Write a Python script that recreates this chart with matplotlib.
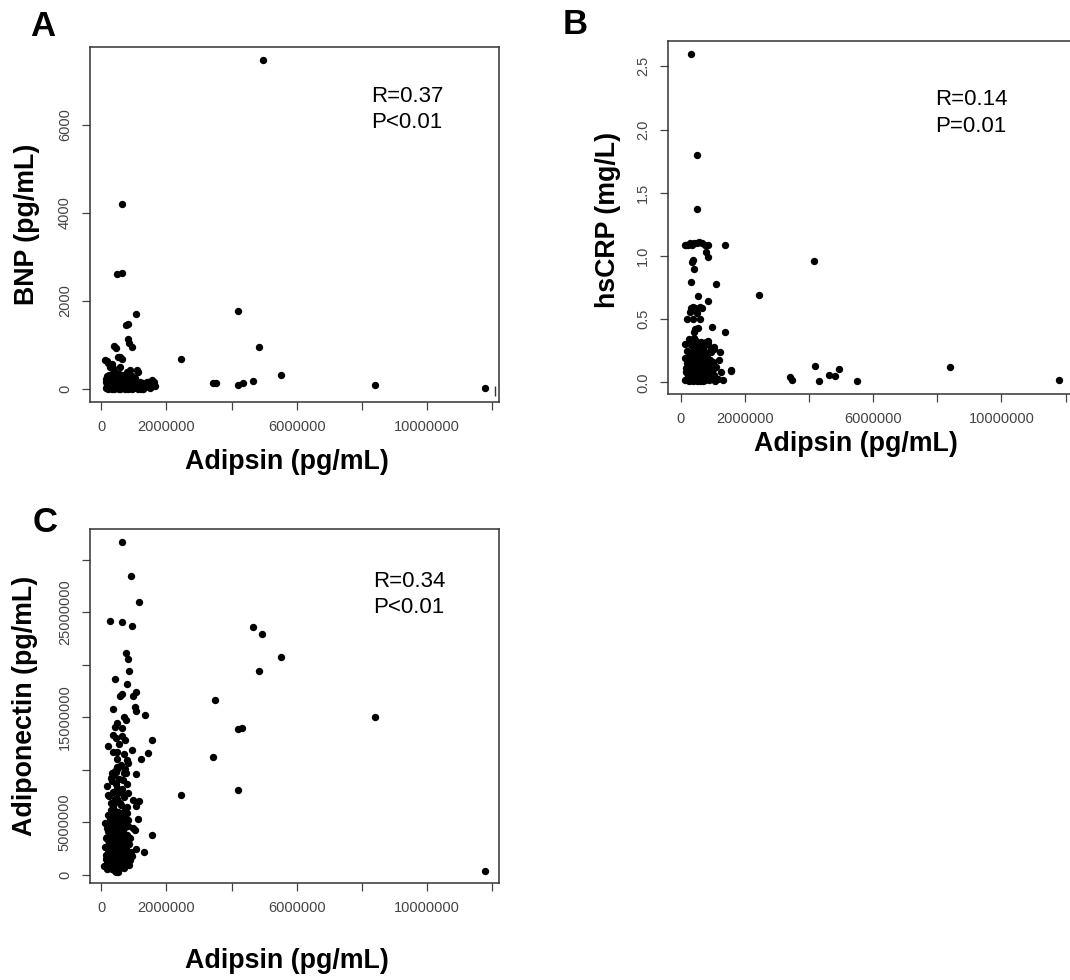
import numpy as np
import matplotlib.pyplot as plt

plt.rcParams['font.family'] = ['Liberation Sans', 'DejaVu Sans']

# Adipsin values are in millions of pg/mL

# A: Adipsin vs BNP
adipsin_a = [4.95, 0.65, 0.50, 0.63, 1.07, 4.19, 0.77, 0.84, 0.81, 0.85,
             0.95, 0.41, 0.45, 4.84, 2.45, 0.13, 0.53, 0.63, 0.58, 0.17,
             0.22, 0.28, 0.34, 0.38, 0.43, 0.58, 0.79, 0.89, 1.09, 1.14,
             5.51, 3.44, 3.52, 4.21, 4.34, 4.65, 8.39, 11.76, 1.40, 1.55,
             1.60, 1.50,
             0.15, 0.18, 0.20, 0.22, 0.25, 0.18, 0.28, 0.30, 0.32, 0.35,
             0.38, 0.40, 0.42, 0.45, 0.48, 0.50, 0.52, 0.55, 0.57, 0.60,
             0.62, 0.65, 0.67, 0.70, 0.72, 0.75, 0.78, 0.80, 0.83, 0.86,
             0.88, 0.90, 0.93, 0.96, 1.00, 1.03, 1.06, 1.10, 1.15, 1.20,
             1.25, 1.30, 1.35, 0.25, 0.35, 0.45, 0.55, 0.70, 0.95, 1.05,
             0.14, 0.16, 0.24, 0.34, 0.44, 0.54, 0.64, 0.74, 0.84, 0.94,
             1.12, 1.22, 1.40, 1.28, 0.60, 0.68, 0.82, 1.00, 0.27, 0.47,
             0.37, 0.57, 1.45, 1.50, 1.58, 1.62, 1.65,
             0.19, 0.21, 0.23, 0.26, 0.29, 0.31, 0.33, 0.36, 0.39, 0.41,
             0.43, 0.46, 0.49, 0.51, 0.53, 0.56, 0.59, 0.61, 0.63, 0.66,
             0.69, 0.71, 0.73, 0.76, 0.79, 0.81, 0.85, 0.87, 0.91, 0.97,
             1.02, 1.08, 1.13, 1.18, 0.35, 0.50, 0.65, 0.80, 0.30, 0.60]
bnp = [7478, 4205, 2607, 2643, 1705, 1780, 1455, 1477, 1130, 1050,
       962, 985, 925, 948, 675, 659, 720, 675, 734, 640,
       584, 507, 560, 470, 393, 507, 393, 432, 432, 393,
       325, 136, 130, 91, 130, 189, 91, 30, 166, 205,
       120, 100,
       20, 60, 120, 180, 250, 300, 30, 90, 150, 220,
       280, 10, 70, 130, 200, 260, 40, 100, 160, 230,
       310, 15, 80, 140, 190, 250, 50, 110, 170, 230,
       20, 80, 140, 200, 30, 90, 150, 60, 110, 40,
       90, 130, 50, 330, 360, 300, 340, 320, 300, 260,
       150, 230, 40, 0, 20, 5, 45, 5, 10, 10,
       10, 5, 60, 10, 60, 200, 60, 170, 190, 250,
       110, 270, 150, 30, 80, 150, 60,
       100, 10, 200, 70, 160, 240, 60, 30, 130, 190,
       230, 60, 20, 140, 100, 210, 10, 110, 180, 50,
       20, 90, 230, 120, 160, 30, 100, 150, 40, 120,
       60, 110, 20, 150, 160, 170, 160, 200, 20, 150]
stray_a = (12.09, -53)

# B: Adipsin vs hsCRP
adipsin_b = [0.33, 0.49, 0.49,
             0.12, 0.16, 0.22, 0.28, 0.34, 0.42, 0.50, 0.58, 0.66, 0.75,
             0.85, 1.37, 0.80, 0.85, 0.38, 0.41, 0.36, 4.16, 0.33, 1.09,
             2.44, 0.54, 0.85, 0.33, 0.44, 0.65, 0.28, 0.38, 0.49, 0.59,
             0.18, 0.38, 0.59, 0.54, 0.98, 1.37, 0.40, 0.45, 0.85, 0.80,
             1.05, 0.95,
             1.58, 1.55, 3.40, 3.47, 4.19, 4.31, 4.62, 4.80, 4.93, 5.51,
             8.39, 11.79,
             0.12, 0.15, 0.18, 0.20, 0.22, 0.25, 0.28, 0.30, 0.32, 0.35,
             0.38, 0.40, 0.42, 0.45, 0.48, 0.50, 0.52, 0.55, 0.58, 0.60,
             0.62, 0.65, 0.68, 0.70, 0.72, 0.75, 0.78, 0.80, 0.83, 0.86,
             0.88, 0.90, 0.93, 0.96, 1.00, 1.05, 1.10, 1.15, 1.20, 1.25,
             0.14, 0.24, 0.34, 0.44, 0.54, 0.64, 0.74, 0.84, 0.94, 0.16,
             0.26, 0.36, 0.46, 0.56, 0.66, 0.76, 0.13, 0.23, 0.33, 0.43,
             1.30, 1.02, 0.70, 0.57, 0.47, 1.21,
             0.19, 0.21, 0.23, 0.26, 0.29, 0.31, 0.33, 0.36, 0.39, 0.41,
             0.43, 0.46, 0.49, 0.51, 0.53, 0.56, 0.59, 0.61, 0.63, 0.66,
             0.69, 0.71, 0.73, 0.76, 0.79, 0.81, 0.85, 0.87, 0.91, 0.97,
             1.02, 1.08, 0.35, 0.50, 0.65, 0.30, 0.60, 0.45, 0.55, 0.40]
hscrp = [2.60, 1.80, 1.37,
         1.09, 1.09, 1.09, 1.10, 1.09, 1.10, 1.10, 1.11, 1.10, 1.09,
         1.09, 1.09, 1.035, 0.995, 0.97, 0.90, 0.95, 0.956, 0.79, 0.776,
         0.69, 0.68, 0.64, 0.59, 0.59, 0.59, 0.56, 0.60, 0.55, 0.60,
         0.50, 0.50, 0.50, 0.43, 0.44, 0.40, 0.40, 0.42, 0.33, 0.32,
         0.28, 0.26,
         0.10, 0.087, 0.04, 0.02, 0.13, 0.013, 0.06, 0.047, 0.108, 0.013,
         0.12, 0.02,
         0.02, 0.08, 0.15, 0.25, 0.05, 0.12, 0.20, 0.30, 0.02, 0.10,
         0.18, 0.27, 0.35, 0.05, 0.14, 0.22, 0.01, 0.09, 0.17, 0.26,
         0.32, 0.04, 0.12, 0.20, 0.29, 0.02, 0.08, 0.15, 0.22, 0.05,
         0.12, 0.18, 0.03, 0.10, 0.16, 0.06, 0.12, 0.03, 0.18, 0.08,
         0.30, 0.34, 0.24, 0.18, 0.30, 0.15, 0.10, 0.30, 0.24, 0.11,
         0.01, 0.04, 0.28, 0.12, 0.22, 0.16, 0.19, 0.09, 0.14, 0.10,
         0.02, 0.26, 0.01, 0.05, 0.33, 0.24,
         0.10, 0.17, 0.02, 0.21, 0.07, 0.13, 0.08, 0.19, 0.01, 0.12,
         0.06, 0.21, 0.03, 0.11, 0.17, 0.02, 0.07, 0.13, 0.19, 0.09,
         0.05, 0.15, 0.02, 0.24, 0.04, 0.11, 0.17, 0.02, 0.09, 0.05,
         0.11, 0.01, 0.29, 0.06, 0.27, 0.15, 0.01, 0.24, 0.20, 0.02]

# C: Adipsin vs Adiponectin (adiponectin in millions of pg/mL)
adipsin_c = [0.63, 0.92, 1.17, 0.28, 0.63, 0.94, 4.65, 4.94, 5.51, 4.85,
             0.77, 0.82, 0.86, 0.44, 0.79, 0.58, 0.64, 0.99, 1.07, 3.49,
             0.35, 1.04, 1.07, 1.35, 8.39, 0.71, 0.77, 0.48, 0.43, 4.19,
             4.33, 0.38, 0.63, 0.74, 1.57, 0.21, 0.94, 1.45, 0.36, 0.48,
             3.44, 1.23, 0.80, 0.83, 0.48, 0.43, 0.70, 0.77, 0.74, 0.33,
             0.31, 1.07, 0.78, 0.17, 4.19, 0.48, 0.53, 0.84, 0.20, 0.24,
             2.45, 0.31, 0.38, 0.99, 1.17, 0.78, 1.07, 0.31, 0.44, 1.14,
             0.63, 0.70, 0.12, 0.18, 0.99, 1.04, 1.57, 1.07, 1.32, 11.76,
             0.48,
             0.10, 0.15, 0.20, 0.25, 0.30, 0.35, 0.40, 0.45, 0.50, 0.55,
             0.60, 0.65, 0.70, 0.75, 0.80, 0.85, 0.90, 0.12, 0.18, 0.22,
             0.28, 0.33, 0.38, 0.42, 0.48, 0.52, 0.58, 0.62, 0.68, 0.72,
             0.78, 0.82, 0.88, 0.15, 0.25, 0.35, 0.45, 0.55, 0.65, 0.75,
             0.20, 0.30, 0.40, 0.50, 0.60, 0.70, 0.80, 0.35, 0.45, 0.55,
             0.65, 0.40, 0.60, 0.50, 0.70, 0.55, 0.45, 0.65, 0.30, 0.92,
             0.42, 0.52, 0.58, 0.38, 0.68, 0.28, 0.18, 0.85, 0.95, 0.47,
             0.16, 0.19, 0.21, 0.24, 0.27, 0.29, 0.32, 0.34, 0.37, 0.39,
             0.41, 0.44, 0.46, 0.49, 0.51, 0.54, 0.56, 0.59, 0.61, 0.64,
             0.66, 0.69, 0.71, 0.74, 0.76, 0.79, 0.81, 0.84, 0.36, 0.43,
             0.53, 0.57, 0.63, 0.67, 0.26, 0.31, 0.47, 0.73, 0.23, 0.77,
             0.14, 0.39, 0.49, 0.59, 0.69, 0.34, 0.44, 0.54, 0.64, 0.29,
             0.42, 0.52, 0.62, 0.72, 0.37, 0.57, 0.47, 0.67, 0.33, 0.51]
adiponectin = [31.65, 28.48, 25.97, 24.16, 24.07, 23.65, 23.55, 22.95, 20.76, 19.36,
               21.1, 20.5, 19.36, 18.67, 18.16, 17.05, 17.2, 17.05, 17.4, 16.67,
               15.8, 16.0, 15.6, 15.17, 15.0, 15.0, 14.76, 14.45, 14.07, 13.9,
               13.97, 13.33, 13.17, 12.79, 12.79, 12.29, 11.9, 11.59, 11.65, 11.65,
               11.2, 11.05, 10.95, 10.6, 10.3, 9.84, 9.68, 9.68, 10.1, 9.68,
               9.21, 9.59, 8.6, 8.48, 8.03, 8.3, 7.8, 7.8, 7.6, 7.5,
               7.55, 6.8, 6.6, 7.08, 7.05, 6.4, 6.5, 5.8, 6.1, 5.33,
               5.9, 5.4, 4.92, 4.44, 4.44, 4.29, 3.75, 2.48, 2.16, 0.38,
               0.48,
               0.8, 1.5, 2.2, 3.0, 0.6, 1.2, 1.9, 2.6, 3.4, 0.9,
               1.6, 2.4, 3.1, 1.1, 2.0, 2.9, 1.4, 2.6, 3.6, 4.2,
               4.8, 3.9, 4.5, 5.2, 4.1, 5.6, 4.7, 5.1, 4.3, 5.5,
               3.8, 4.6, 3.5, 0.9, 1.4, 2.3, 0.7, 1.8, 0.8, 2.6,
               5.7, 6.2, 6.8, 7.2, 6.6, 7.4, 5.9, 7.9, 8.6, 9.1,
               8.2, 9.5, 10.4, 11.0, 11.5, 12.4, 13.0, 14.0, 3.3, 2.2,
               0.4, 0.3, 2.9, 3.0, 1.9, 2.0, 1.1, 0.9, 1.8, 6.0,
               1.9, 0.5, 3.3, 1.0, 2.5, 4.0, 1.7, 0.5, 2.8, 4.9,
               1.5, 3.6, 0.3, 2.0, 4.4, 1.3, 3.2, 0.6, 2.2, 4.0,
               1.3, 3.8, 0.6, 1.7, 3.4, 1.4, 5.2, 2.2, 5.5, 4.3,
               6.0, 2.4, 3.7, 5.9, 5.3, 5.0, 5.0, 4.5, 0.6, 5.1,
               3.5, 1.0, 0.9, 1.0, 2.7, 3.0, 3.2, 2.5, 3.0, 1.6,
               7.2, 8.0, 7.9, 6.3, 6.5, 6.8, 9.8, 9.0, 8.9, 10.2]

x_ticks = np.arange(0, 12.1e6, 2e6)
x_labels = ['0', '2000000', '', '6000000', '', '10000000', '']

W, H = 1070, 980
fig = plt.figure(figsize=(W / 100, H / 100), dpi=100)


def panel(left, top, right, bottom):
    return fig.add_axes([left / W, 1 - bottom / H, (right - left) / W, (bottom - top) / H])


def style(ax):
    for s in ax.spines.values():
        s.set_color('#333333')
        s.set_linewidth(1.1)
    ax.tick_params(direction='out', length=6, width=0.9, color='#444444',
                   labelcolor='#444444', labelsize=10.5, pad=7)
    ax.tick_params(axis='y', labelrotation=90)
    for lab in ax.get_yticklabels():
        lab.set_va('center')


def dots(ax, x, y, yscale=1.0):
    ax.plot(np.array(x) * 1e6, np.array(y) * yscale, 'o', color='black',
            markersize=5.3, markeredgewidth=0)


lab_font = dict(fontsize=19.3, fontweight='bold')
stat_font = dict(fontsize=16)

# panel A
ax_a = panel(90, 47, 499, 402)
dots(ax_a, adipsin_a, bnp)
ax_a.plot(stray_a[0] * 1e6, stray_a[1], '|', color='#333333', markersize=7)
ax_a.set_xlim(-0.34e6, 12.2e6)
ax_a.set_ylim(-295, 7774)
ax_a.set_xticks(x_ticks, x_labels)
ax_a.set_yticks([0, 2000, 4000, 6000], ['0', '2000', '4000', '6000'])
style(ax_a)
ax_a.set_xlabel('Adipsin (pg/mL)', va='center', **lab_font)
ax_a.xaxis.set_label_coords(0.4825, -0.169)
ax_a.set_ylabel('BNP (pg/mL)', va='center', **lab_font)
ax_a.yaxis.set_label_coords(-0.155, 0.5)
ax_a.text(0.688, 0.846, 'R=0.37', transform=ax_a.transAxes, va='baseline', **stat_font)
ax_a.text(0.688, 0.771, 'P<0.01', transform=ax_a.transAxes, va='baseline', **stat_font)

# panel B (runs off the right edge like the original)
ax_b = panel(668, 41, 1072, 394)
dots(ax_b, adipsin_b, hscrp)
ax_b.set_xlim(-0.4e6, 12.2e6)
ax_b.set_ylim(-0.092, 2.70)
ax_b.set_xticks(x_ticks, x_labels)
ax_b.set_yticks([0, 0.5, 1.0, 1.5, 2.0, 2.5], ['0.0', '0.5', '1.0', '1.5', '2.0', '2.5'])
style(ax_b)
ax_b.set_xlabel('Adipsin (pg/mL)', va='center', **lab_font)
ax_b.xaxis.set_label_coords(0.464, -0.143)
ax_b.set_ylabel('hsCRP (mg/L)', va='center', **lab_font)
ax_b.yaxis.set_label_coords(-0.1485, 0.493)
ax_b.text(0.660, 0.818, 'R=0.14', transform=ax_b.transAxes, va='baseline', **stat_font)
ax_b.text(0.660, 0.743, 'P=0.01', transform=ax_b.transAxes, va='baseline', **stat_font)

# panel C
ax_c = panel(90, 529, 499, 883)
dots(ax_c, adipsin_c, adiponectin, yscale=1e6)
ax_c.set_xlim(-0.34e6, 12.2e6)
ax_c.set_ylim(-0.79e6, 32.92e6)
ax_c.set_xticks(x_ticks, x_labels)
ax_c.set_yticks(np.arange(0, 30.1e6, 5e6),
                ['0', '5000000', '', '15000000', '', '25000000', ''])
style(ax_c)
ax_c.set_xlabel('Adipsin (pg/mL)', va='center', **lab_font)
ax_c.xaxis.set_label_coords(0.4825, -0.221)
ax_c.set_ylabel('Adiponectin (pg/mL)', va='center', **lab_font)
ax_c.yaxis.set_label_coords(-0.159, 0.499)
ax_c.text(0.692, 0.836, 'R=0.34', transform=ax_c.transAxes, va='baseline', **stat_font)
ax_c.text(0.692, 0.763, 'P<0.01', transform=ax_c.transAxes, va='baseline', **stat_font)

# panel letters
for letter, (px, py) in zip('ABC', [(43, 26), (575, 25), (45, 522)]):
    fig.text(px / W, 1 - py / H, letter, fontsize=25, fontweight='bold',
             ha='center', va='center')

fig.savefig('out.png', dpi=100)
